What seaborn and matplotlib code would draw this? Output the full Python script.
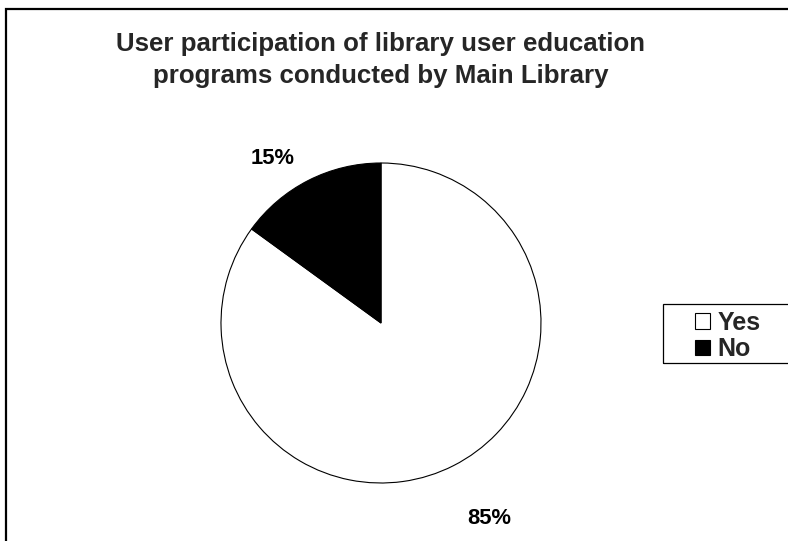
import matplotlib
matplotlib.use("Agg")
import matplotlib.pyplot as plt
import seaborn as sns
from matplotlib.patches import Patch, Rectangle

categories = ["Yes", "No"]
values = [85, 15]
colors = ["white", "black"]
pct_labels = ["85%", "15%"]
title = "User participation of library user education\nprograms conducted by Main Library"

sns.set_theme(style="white")
plt.rcParams["font.family"] = ["Liberation Sans", "DejaVu Sans"]

W, H = 788, 541
fig = plt.figure(figsize=(W / 100, H / 100), dpi=100)
fig.patch.set_facecolor("white")

# pie axes: centre (381, 323) px, radius 160 px
cx, cy, r = 381, 323, 160
ax = fig.add_axes([(cx - r) / W, (H - cy - r) / H, 2 * r / W, 2 * r / H])
wedges, _ = ax.pie(values, colors=colors, startangle=90, counterclock=False,
                   wedgeprops=dict(edgecolor="black", linewidth=0.8))
ax.set_xlim(-1, 1)
ax.set_ylim(-1, 1)
ax.set_aspect("equal")
ax.axis("off")

# percentage labels (label placement in axes data units)
label_pos = [(0.675, -1.225), (-0.675, 1.03)]
for (x, y), t in zip(label_pos, pct_labels):
    ax.text(x, y, t, ha="center", va="center", fontsize=15.8,
            fontweight="bold", color="black")

fig.text(cx / W, 1 - 60 / H, title, ha="center", va="center",
         fontsize=18.6, fontweight="bold", linespacing=1.38)

# outer frame (clipped by right/bottom edges as in reference)
fig.patches.append(Rectangle((5.5 / W, -0.2), 1.2, 1 - 8.5 / H + 0.2,
                             transform=fig.transFigure, fill=False,
                             edgecolor="black", linewidth=1.6))

# legend box
fig.patches.append(Rectangle((663 / W, 1 - 363 / H), 0.3, 59 / H,
                             transform=fig.transFigure, fill=False,
                             edgecolor="black", linewidth=0.9))
handles = [Patch(facecolor=c, edgecolor="black", linewidth=0.8) for c in colors]
leg = fig.legend(handles, categories, loc="center left",
                 bbox_to_anchor=(695 / W, 1 - 336 / H), frameon=False,
                 borderpad=0, borderaxespad=0, handlelength=0.6,
                 handleheight=0.6, handletextpad=0.3, labelspacing=0.1,
                 prop=dict(size=18, weight="bold"))

fig.savefig("out.png", dpi=100)
